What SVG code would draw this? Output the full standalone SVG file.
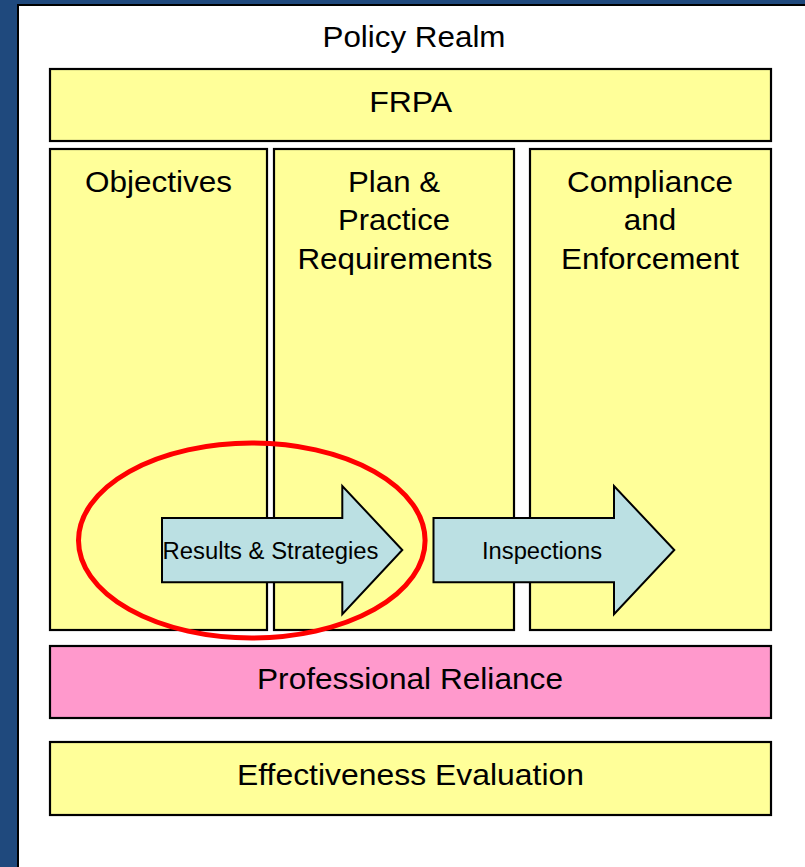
<svg xmlns="http://www.w3.org/2000/svg" width="805" height="867" viewBox="0 0 805 867">
  <defs>
    <style>
      .box { stroke: #000; stroke-width: 2.2; }
      .yellow { fill: #FFFF99; }
      .pink { fill: #FF99CC; }
      .arrow { fill: #BBE0E3; stroke: #000; stroke-width: 2; stroke-linejoin: miter; }
      .lbl { font-family: "Liberation Sans", Arial, sans-serif; font-size: 29.5px; fill: #000; text-anchor: middle; }
      .small { font-family: "Liberation Sans", Arial, sans-serif; font-size: 23px; fill: #000; text-anchor: middle; }
    </style>
  </defs>

  <!-- slide background and white panel -->
  <rect x="0" y="0" width="805" height="867" fill="#1F497D"/>
  <rect x="18" y="5" width="800" height="880" fill="#FFFFFF" stroke="#000" stroke-width="2"/>

  <text class="lbl" x="414" y="46.5" textLength="183" lengthAdjust="spacingAndGlyphs">Policy Realm</text>

  <g id="frpa">
    <rect class="box yellow" x="50" y="69" width="721" height="72"/>
    <text class="lbl" x="410.7" y="111.5" textLength="83" lengthAdjust="spacingAndGlyphs">FRPA</text>
  </g>

  <g id="objectives">
    <rect class="box yellow" x="50" y="149" width="217" height="481"/>
    <text class="lbl" x="158.5" y="191.5" textLength="147" lengthAdjust="spacingAndGlyphs">Objectives</text>
  </g>

  <g id="plan-practice">
    <rect class="box yellow" x="274" y="149" width="240" height="481"/>
    <text class="lbl" x="394" y="191.5" textLength="92" lengthAdjust="spacingAndGlyphs">Plan &amp;</text>
    <text class="lbl" x="394" y="229.5" textLength="112" lengthAdjust="spacingAndGlyphs">Practice</text>
    <text class="lbl" x="395" y="268.5" textLength="195" lengthAdjust="spacingAndGlyphs">Requirements</text>
  </g>

  <g id="compliance">
    <rect class="box yellow" x="530" y="149" width="241" height="481"/>
    <text class="lbl" x="650" y="191.5" textLength="166" lengthAdjust="spacingAndGlyphs">Compliance</text>
    <text class="lbl" x="650" y="229.5" textLength="52.5" lengthAdjust="spacingAndGlyphs">and</text>
    <text class="lbl" x="650" y="268.5" textLength="178" lengthAdjust="spacingAndGlyphs">Enforcement</text>
  </g>

  <g id="professional-reliance">
    <rect class="box pink" x="50" y="646" width="721" height="72"/>
    <text class="lbl" x="410" y="688.5" textLength="306" lengthAdjust="spacingAndGlyphs">Professional Reliance</text>
  </g>

  <g id="effectiveness">
    <rect class="box yellow" x="50" y="742" width="721" height="73"/>
    <text class="lbl" x="410.5" y="784.5" textLength="347" lengthAdjust="spacingAndGlyphs">Effectiveness Evaluation</text>
  </g>

  <!-- block arrows -->
  <g id="connectors">
    <g id="results-strategies">
      <path class="arrow" d="M162,518 H342.3 V486 L402.3,550 L342.3,614.3 V582.3 H162 Z"/>
      <text class="small" x="270.5" y="558.5" textLength="216" lengthAdjust="spacingAndGlyphs">Results &amp; Strategies</text>
    </g>
    <g id="inspections">
      <path class="arrow" d="M433.5,518 H614 V486 L674.3,550 L614,614.3 V582.3 H433.5 Z"/>
      <text class="small" x="542" y="558.5" textLength="120" lengthAdjust="spacingAndGlyphs">Inspections</text>
    </g>
  </g>

  <!-- highlight ring -->
  <ellipse cx="251.8" cy="540.5" rx="173.3" ry="97.5" fill="none" stroke="#FF0000" stroke-width="5"/>
</svg>
